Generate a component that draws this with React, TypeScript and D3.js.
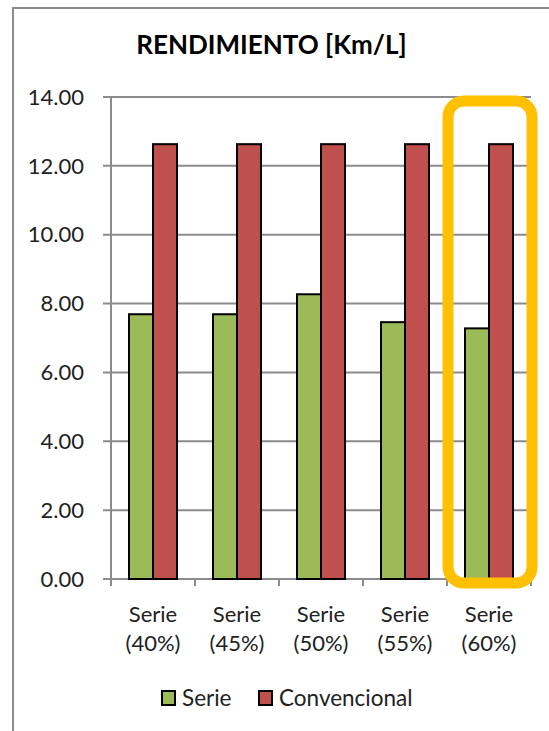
import React from "react";
import * as d3 from "d3";

const categories = ["Serie (40%)", "Serie (45%)", "Serie (50%)", "Serie (55%)", "Serie (60%)"];
const serieValues = [7.69, 7.69, 8.27, 7.46, 7.28];
const convencionalValues = [12.63, 12.63, 12.63, 12.63, 12.63];
const seriesNames = ["Serie", "Convencional"];
const yTicks = [0, 2, 4, 6, 8, 10, 12, 14];
const highlighted = "Serie (60%)";

const COLORS = ["#9BBB59", "#C0504D"];
const FONT = "Lato, 'Open Sans', sans-serif";

export default function App() {
  const W = 549, H = 731;
  const left = 111, right = 531, top = 97, bottom = 579;
  const x = d3.scaleBand<string>().domain(categories).range([left, right]);
  const y = d3.scaleLinear().domain([0, 14]).range([bottom, top]);
  const barW = x.bandwidth() / 3.5;
  const data = [serieValues, convencionalValues];

  const hx = x(highlighted)!;
  return (
    <svg width={W} height={H} style={{ position: "absolute", left: 0, top: 0 }}>
      <rect x={0} y={0} width={W} height={H} fill="#fff" />
      {/* outer frame */}
      <path d={`M13,${H} L13,8 L${W},8`} fill="none" stroke="#8c8c8c" strokeWidth={2} />
      <text x={271.5} y={54} textAnchor="middle" fontFamily={FONT} fontWeight="bold" fontSize={26} fill="#000">
        RENDIMIENTO [Km/L]
      </text>
      {/* gridlines & y ticks */}
      {yTicks.map((t) => (
        <g key={t}>
          <line x1={103} x2={right} y1={y(t)} y2={y(t)} stroke="#8c8c8c" strokeWidth={2} />
          <text x={84} y={y(t)} dy="0.35em" textAnchor="end" fontFamily={FONT} fontSize={22} fill="#222">
            {t.toFixed(2)}
          </text>
        </g>
      ))}
      <line x1={left} x2={left} y1={top} y2={bottom} stroke="#8c8c8c" strokeWidth={2} />
      {/* x ticks */}
      {[...categories.map((c) => x(c)!), right].map((px, i) => (
        <line key={i} x1={px} x2={px} y1={bottom} y2={bottom + 7} stroke="#8c8c8c" strokeWidth={2} />
      ))}
      {/* bars */}
      {categories.map((c, i) => {
        const cx = x(c)! + x.bandwidth() / 2;
        return (
          <g key={c}>
            {data.map((vals, s) => (
              <rect
                key={s}
                x={cx - barW + s * barW}
                y={y(vals[i])}
                width={barW}
                height={bottom - y(vals[i])}
                fill={COLORS[s]}
                stroke="#000"
                strokeWidth={2}
              />
            ))}
            <text x={cx} y={622} textAnchor="middle" fontFamily={FONT} fontSize={22} fill="#222">
              {c.split(" ")[0]}
            </text>
            <text x={cx} y={651} textAnchor="middle" fontFamily={FONT} fontSize={22} fill="#222">
              {c.split(" ")[1]}
            </text>
          </g>
        );
      })}
      {/* highlight */}
      <rect
        x={hx + 1}
        y={101}
        width={x.bandwidth()}
        height={583 - 101}
        rx={16}
        ry={16}
        fill="none"
        stroke="#FFC000"
        strokeWidth={11}
      />
      {/* legend */}
      {seriesNames.map((n, i) => {
        const lx = i === 0 ? 162 : 259;
        return (
          <g key={n}>
            <rect x={lx} y={691} width={13} height={14} fill={COLORS[i]} stroke="#000" strokeWidth={2} />
            <text x={lx + 20} y={706} fontFamily={FONT} fontSize={22.5} fill="#222">
              {n}
            </text>
          </g>
        );
      })}
    </svg>
  );
}
